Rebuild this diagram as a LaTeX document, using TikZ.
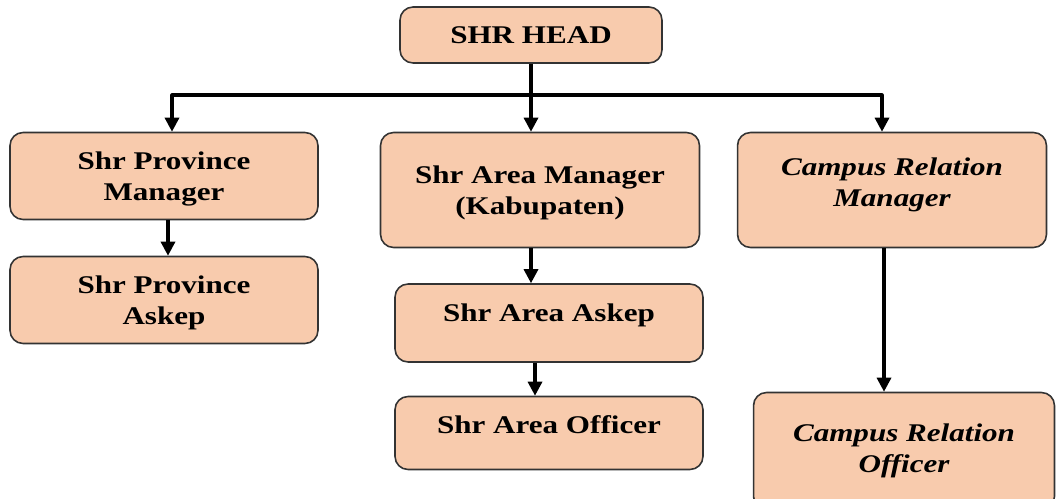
\documentclass[tikz,border=0pt]{standalone}
\usepackage{fontspec}
\setmainfont{Liberation Serif}[FakeStretch=1.22]
\usetikzlibrary{arrows.meta}
\definecolor{peach}{HTML}{F8CBAD}
\tikzset{
 unit/.style={draw=black!80, line width=0.9pt, fill=peach, rounded corners=0.26cm,
  align=center, inner sep=2pt, font=\fontsize{14.5}{17.6}\selectfont\bfseries},
 campus/.style={unit, font=\fontsize{14.5}{17.6}\selectfont\bfseries\itshape},
 link/.style={line width=1.8pt, -{Triangle[length=8pt,width=8pt]}}
}
\begin{document}
\begin{tikzpicture}[x=0.02cm,y=-0.02cm, line join=round]
 \useasboundingbox (0,0) rectangle (1057,499);
 % top
 \node[unit, minimum width=5.24cm, minimum height=1.12cm] (head) at (531,35) {SHR HEAD};
 % left column
 \node[unit, minimum width=6.16cm, minimum height=1.74cm, text depth=0cm] (pm) at (164,176) {Shr Province\\Manager};
 \node[unit, minimum width=6.16cm, minimum height=1.74cm, text depth=0cm] (pa) at (164,300) {Shr Province\\Askep};
 % middle column
 \node[unit, minimum width=6.38cm, minimum height=2.3cm, text depth=0cm] (am) at (540,190) {Shr Area Manager\\(Kabupaten)};
 \node[unit, minimum width=6.16cm, minimum height=1.56cm, text depth=0.41cm] (aa) at (549,323) {Shr Area Askep};
 \node[unit, minimum width=6.16cm, minimum height=1.46cm, text depth=0.33cm] (ao) at (549,433) {Shr Area Officer};
 % right column
 \node[campus, minimum width=6.18cm, minimum height=2.3cm, text depth=0.3cm] (cm) at (892,190) {Campus Relation\\Manager};
 \node[campus, minimum width=6.02cm, minimum height=2.34cm] (co) at (904,451) {Campus Relation\\Officer};
 \coordinate (bus) at (531,95);
 \draw[line width=1.8pt] (head.south) -- (bus);
 \draw[link] (bus) -| ([xshift=0.16cm]pm.north);
 \draw[link] (bus) -- (bus |- am.north);
 \draw[link] (bus) -| ([xshift=-0.2cm]cm.north);
 \draw[link] ([xshift=0.08cm]pm.south) -- ([xshift=0.08cm]pm.south |- pa.north);
 \draw[link] (bus |- am.south) -- (bus |- aa.north);
 \draw[link] ([xshift=-0.28cm]aa.south) -- ([xshift=-0.28cm]aa.south |- ao.north);
 \draw[link] ([xshift=-0.16cm]cm.south) -- ([xshift=-0.16cm]cm.south |- co.north);
\end{tikzpicture}
\end{document}
